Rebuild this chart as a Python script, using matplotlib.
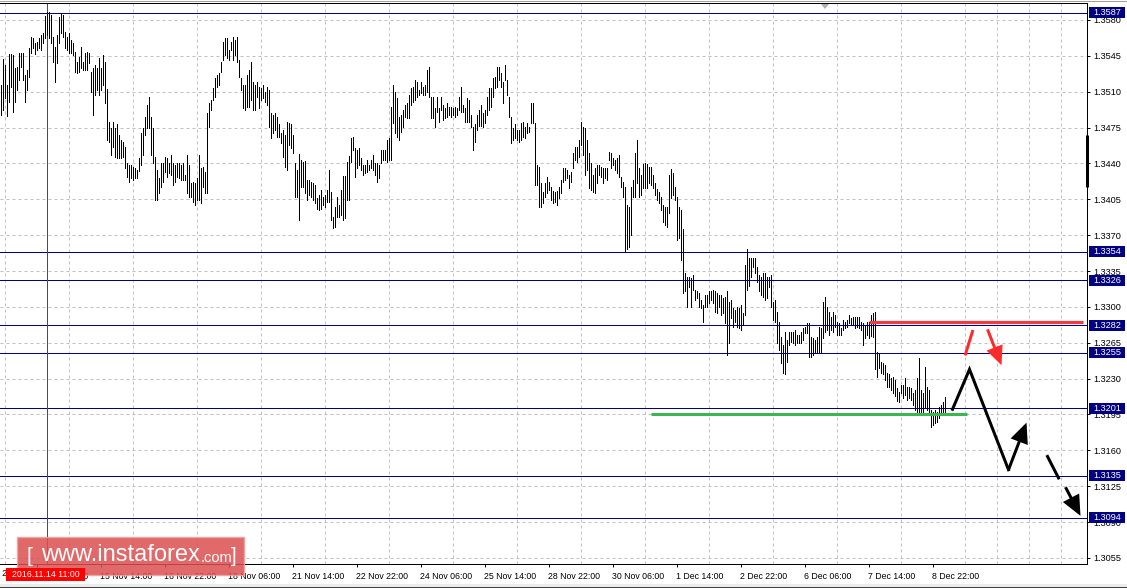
import matplotlib
matplotlib.use("Agg")
import matplotlib.pyplot as plt
import matplotlib.transforms as mtrans
from matplotlib.patches import Rectangle, Polygon, FancyArrowPatch
from matplotlib.lines import Line2D

plt.rcParams['font.family'] = ['Liberation Sans', 'DejaVu Sans']

# ---------------- data (H1 bars) ----------------
highs = [
1.3517,1.3542,1.3536,1.3517,1.3547,1.3547,1.3546,1.3533,1.3534,1.3548,
1.3548,1.3548,1.3526,1.3531,1.3553,1.3563,1.3562,1.3558,1.3559,1.3562,
1.3565,1.3567,1.3584,1.3588,1.3588,1.3585,1.3563,1.3554,1.3565,1.3583,
1.3587,1.3585,1.3568,1.3563,1.3567,1.3560,1.3558,1.3549,1.3539,1.3544,
1.3554,1.3539,1.3548,1.3549,1.3548,1.3529,1.3533,1.3536,1.3533,1.3543,
1.3533,1.3546,1.3539,1.3513,1.3480,1.3475,1.3480,1.3475,1.3478,1.3468,
1.3463,1.3461,1.3456,1.3440,1.3438,1.3438,1.3437,1.3436,1.3434,1.3445,
1.3470,1.3475,1.3485,1.3497,1.3505,1.3485,1.3475,1.3446,1.3434,1.3426,
1.3440,1.3440,1.3446,1.3445,1.3440,1.3448,1.3440,1.3438,1.3440,1.3440,
1.3438,1.3440,1.3429,1.3448,1.3438,1.3421,1.3422,1.3421,1.3426,1.3448,
1.3436,1.3437,1.3432,1.3489,1.3499,1.3502,1.3514,1.3523,1.3526,1.3528,
1.3539,1.3559,1.3562,1.3562,1.3551,1.3559,1.3563,1.3560,1.3563,1.3541,
1.3523,1.3517,1.3517,1.3526,1.3531,1.3539,1.3519,1.3517,1.3519,1.3515,
1.3514,1.3517,1.3510,1.3515,1.3512,1.3489,1.3487,1.3489,1.3485,1.3478,
1.3470,1.3473,1.3468,1.3480,1.3479,1.3478,1.3468,1.3440,1.3434,1.3449,
1.3443,1.3441,1.3442,1.3424,1.3424,1.3422,1.3421,1.3419,1.3406,1.3409,
1.3414,1.3407,1.3409,1.3414,1.3434,1.3412,1.3388,1.3397,1.3407,1.3399,
1.3414,1.3428,1.3428,1.3441,1.3447,1.3465,1.3466,1.3455,1.3453,1.3455,
1.3445,1.3438,1.3438,1.3443,1.3438,1.3443,1.3448,1.3440,1.3440,1.3438,
1.3453,1.3453,1.3453,1.3463,1.3465,1.3495,1.3517,1.3510,1.3504,1.3485,
1.3487,1.3492,1.3497,1.3499,1.3507,1.3514,1.3515,1.3521,1.3519,1.3512,
1.3519,1.3515,1.3517,1.3531,1.3534,1.3505,1.3505,1.3494,1.3505,1.3494,
1.3505,1.3497,1.3494,1.3499,1.3495,1.3495,1.3494,1.3495,1.3494,1.3505,
1.3515,1.3497,1.3494,1.3504,1.3502,1.3487,1.3476,1.3478,1.3487,1.3492,
1.3497,1.3489,1.3492,1.3505,1.3514,1.3514,1.3523,1.3524,1.3534,1.3534,
1.3528,1.3519,1.3536,1.3521,1.3505,1.3485,1.3475,1.3478,1.3473,1.3473,
1.3479,1.3480,1.3476,1.3479,1.3476,1.3499,1.3499,1.3479,1.3438,1.3437,
1.3421,1.3412,1.3421,1.3427,1.3422,1.3417,1.3413,1.3412,1.3413,1.3417,
1.3424,1.3436,1.3436,1.3434,1.3429,1.3432,1.3450,1.3456,1.3456,1.3463,
1.3480,1.3476,1.3475,1.3463,1.3450,1.3440,1.3429,1.3436,1.3438,1.3438,
1.3437,1.3436,1.3436,1.3436,1.3451,1.3450,1.3445,1.3443,1.3445,1.3448,
1.3427,1.3422,1.3417,1.3399,1.3397,1.3417,1.3424,1.3450,1.3463,1.3436,
1.3429,1.3439,1.3440,1.3439,1.3437,1.3437,1.3429,1.3421,1.3415,1.3412,
1.3407,1.3399,1.3397,1.3397,1.3429,1.3435,1.3431,1.3417,1.3407,1.3397,
1.3395,1.3376,1.3333,1.3329,1.3329,1.3328,1.3331,1.3316,1.3315,1.3314,
1.3307,1.3302,1.3312,1.3312,1.3315,1.3315,1.3316,1.3315,1.3314,1.3312,
1.3312,1.3309,1.3310,1.3315,1.3305,1.3307,1.3299,1.3297,1.3300,1.3299,
1.3302,1.3294,1.3341,1.3356,1.3348,1.3348,1.3348,1.3348,1.3339,1.3331,
1.3329,1.3333,1.3333,1.3329,1.3329,1.3331,1.3305,1.3307,1.3295,1.3285,
1.3271,1.3263,1.3275,1.3268,1.3275,1.3275,1.3275,1.3277,1.3273,1.3273,
1.3275,1.3279,1.3280,1.3284,1.3284,1.3271,1.3270,1.3268,1.3271,1.3280,
1.3279,1.3305,1.3310,1.3300,1.3295,1.3290,1.3295,1.3292,1.3285,1.3284,
1.3279,1.3287,1.3285,1.3287,1.3292,1.3289,1.3290,1.3290,1.3290,1.3290,
1.3285,1.3284,1.3282,1.3285,1.3285,1.3292,1.3294,1.3295,1.3256,1.3255,
1.3246,1.3245,1.3243,1.3235,1.3234,1.3231,1.3232,1.3229,1.3221,1.3217,
1.3224,1.3224,1.3231,1.3222,1.3222,1.3221,1.3216,1.3219,1.3231,1.3250,
1.3219,1.3216,1.3241,1.3222,1.3219,1.3199,1.3197,1.3199,1.3197,1.3202,
1.3204,1.3207,1.3212]

lows = [
1.3487,1.3492,1.3504,1.3486,1.3500,1.3515,1.3490,1.3500,1.3512,1.3521,
1.3534,1.3521,1.3500,1.3512,1.3524,1.3548,1.3553,1.3547,1.3551,1.3553,
1.3551,1.3558,1.3562,1.3565,1.3562,1.3558,1.3539,1.3519,1.3538,1.3558,
1.3567,1.3563,1.3553,1.3551,1.3548,1.3548,1.3546,1.3529,1.3528,1.3529,
1.3533,1.3531,1.3531,1.3531,1.3538,1.3510,1.3487,1.3507,1.3512,1.3507,
1.3512,1.3517,1.3499,1.3463,1.3461,1.3448,1.3456,1.3446,1.3445,1.3445,
1.3445,1.3446,1.3436,1.3427,1.3422,1.3426,1.3424,1.3426,1.3426,1.3433,
1.3438,1.3448,1.3468,1.3475,1.3475,1.3448,1.3440,1.3404,1.3404,1.3411,
1.3417,1.3422,1.3432,1.3427,1.3431,1.3429,1.3419,1.3422,1.3427,1.3426,
1.3424,1.3424,1.3424,1.3411,1.3407,1.3407,1.3402,1.3399,1.3404,1.3404,
1.3401,1.3417,1.3411,1.3411,1.3476,1.3492,1.3502,1.3505,1.3515,1.3517,
1.3529,1.3541,1.3546,1.3543,1.3541,1.3551,1.3541,1.3546,1.3539,1.3524,
1.3512,1.3494,1.3492,1.3495,1.3495,1.3502,1.3492,1.3492,1.3505,1.3494,
1.3502,1.3504,1.3500,1.3497,1.3476,1.3465,1.3470,1.3473,1.3466,1.3466,
1.3460,1.3446,1.3437,1.3434,1.3458,1.3455,1.3450,1.3407,1.3407,1.3385,
1.3417,1.3417,1.3411,1.3404,1.3409,1.3407,1.3404,1.3401,1.3396,1.3395,
1.3396,1.3399,1.3397,1.3402,1.3402,1.3385,1.3377,1.3378,1.3388,1.3388,
1.3390,1.3385,1.3387,1.3404,1.3404,1.3441,1.3453,1.3427,1.3436,1.3438,
1.3434,1.3429,1.3431,1.3432,1.3434,1.3436,1.3434,1.3429,1.3422,1.3426,
1.3440,1.3443,1.3443,1.3441,1.3443,1.3443,1.3479,1.3470,1.3466,1.3463,
1.3471,1.3476,1.3485,1.3484,1.3484,1.3497,1.3500,1.3502,1.3505,1.3507,
1.3509,1.3507,1.3507,1.3510,1.3505,1.3484,1.3484,1.3476,1.3490,1.3480,
1.3492,1.3482,1.3484,1.3485,1.3487,1.3485,1.3487,1.3485,1.3487,1.3492,
1.3490,1.3490,1.3480,1.3480,1.3480,1.3476,1.3453,1.3461,1.3473,1.3477,
1.3477,1.3476,1.3479,1.3487,1.3492,1.3495,1.3505,1.3514,1.3515,1.3521,
1.3515,1.3499,1.3521,1.3507,1.3485,1.3460,1.3463,1.3465,1.3463,1.3461,
1.3463,1.3466,1.3465,1.3470,1.3471,1.3479,1.3479,1.3419,1.3419,1.3397,
1.3397,1.3401,1.3407,1.3411,1.3414,1.3404,1.3401,1.3402,1.3399,1.3406,
1.3411,1.3422,1.3424,1.3426,1.3416,1.3422,1.3436,1.3443,1.3441,1.3446,
1.3458,1.3448,1.3429,1.3434,1.3416,1.3414,1.3412,1.3411,1.3421,1.3429,
1.3427,1.3421,1.3426,1.3424,1.3443,1.3436,1.3438,1.3434,1.3431,1.3427,
1.3417,1.3407,1.3354,1.3356,1.3358,1.3370,1.3407,1.3407,1.3421,1.3407,
1.3409,1.3416,1.3416,1.3416,1.3421,1.3419,1.3416,1.3409,1.3404,1.3401,
1.3395,1.3383,1.3380,1.3378,1.3392,1.3406,1.3409,1.3404,1.3365,1.3367,
1.3346,1.3314,1.3315,1.3300,1.3319,1.3300,1.3316,1.3307,1.3309,1.3300,
1.3299,1.3285,1.3300,1.3300,1.3304,1.3307,1.3304,1.3295,1.3294,1.3300,
1.3292,1.3294,1.3284,1.3253,1.3265,1.3289,1.3280,1.3285,1.3280,1.3279,
1.3277,1.3282,1.3292,1.3316,1.3320,1.3329,1.3339,1.3333,1.3324,1.3315,
1.3312,1.3310,1.3307,1.3309,1.3319,1.3300,1.3287,1.3285,1.3265,1.3258,
1.3245,1.3235,1.3234,1.3246,1.3263,1.3266,1.3265,1.3263,1.3265,1.3265,
1.3265,1.3268,1.3274,1.3274,1.3251,1.3251,1.3253,1.3255,1.3256,1.3256,
1.3255,1.3270,1.3275,1.3277,1.3273,1.3277,1.3275,1.3280,1.3273,1.3273,
1.3273,1.3277,1.3279,1.3280,1.3284,1.3282,1.3282,1.3279,1.3280,1.3279,
1.3277,1.3263,1.3270,1.3273,1.3270,1.3272,1.3271,1.3239,1.3232,1.3240,
1.3235,1.3234,1.3229,1.3222,1.3222,1.3219,1.3216,1.3213,1.3208,1.3207,
1.3216,1.3211,1.3214,1.3209,1.3211,1.3209,1.3204,1.3199,1.3197,1.3197,
1.3194,1.3196,1.3202,1.3199,1.3197,1.3183,1.3185,1.3187,1.3188,1.3192,
1.3194,1.3196,1.3197]

time_labels = ["14 Nov 06:00", "15 Nov 14:00", "16 Nov 22:00", "18 Nov 06:00",
               "21 Nov 14:00", "22 Nov 22:00", "24 Nov 06:00", "25 Nov 14:00",
               "28 Nov 22:00", "30 Nov 06:00", "1 Dec 14:00", "2 Dec 22:00",
               "6 Dec 06:00", "7 Dec 14:00", "8 Dec 22:00"]
prev_label = "10 Nov 22:00"
price_ticks = [1.3055, 1.3090, 1.3125, 1.3160, 1.3195, 1.3230, 1.3265, 1.3300,
               1.3335, 1.3370, 1.3405, 1.3440, 1.3475, 1.3510, 1.3545, 1.3580]
level_prices = [1.3587, 1.3354, 1.3326, 1.3282, 1.3255, 1.3201, 1.3135, 1.3094]
marker_bar = 23
marker_label = "2016.11.14 11:00"
resistance_price = 1.32853
resistance_span = [434, 541]
support_price = 1.31955
support_span = [325, 483]
# forecast paths (bar index, price)
black_path_x = [476, 484.5, 504, 513]
black_path_y = [1.3200, 1.3239, 1.3141, 1.3187]
black_dash_x = [523.5, 529, 532.5, 540]
black_dash_y = [1.3154, 1.3133, 1.3124, 1.3096]
red_path_x = [482.5, 486, 493.5, 500.5]
red_path_y = [1.3254, 1.3276, 1.3278, 1.3243]

# ---------------- figure ----------------
W, H = 1127, 588
fig = plt.figure(figsize=(W / 100, H / 100), dpi=100)
fig.patch.set_facecolor('white')
ax = fig.add_axes([0, (H - 564) / H, 1087 / W, 561 / H])
ax.set_facecolor('white')

n = min(len(highs), len(lows))
xs = list(range(n))
ax.set_xlim(-0.25, 543.25)
ax.set_ylim(1.304901, 1.359659)

PX = 0.72  # one pixel in points
grid_kw = dict(color='#c0c0c0', linestyle=(0, (3, 3)), linewidth=PX)

ax.set_xticks([18 + 32 * k for k in range(len(time_labels))])
ax.set_xticks([2 + 16 * k for k in range(34)], minor=True)
ax.set_xticklabels(time_labels, ha='left', fontsize=6.3)
ax.xaxis.grid(True, which='minor', **grid_kw)
ax.xaxis.grid(False, which='major')
ax.set_yticks(price_ticks)
ax.set_yticklabels([f"{p:.4f}" for p in price_ticks], fontsize=6.6)
ax.yaxis.grid(True, **grid_kw)
ax.set_axisbelow(True)
ax.yaxis.tick_right()
ax.tick_params(axis='y', direction='out', length=3 * PX, width=PX, pad=3 * PX, colors='black')
ax.tick_params(axis='x', which='major', direction='out', length=3 * PX, width=PX, pad=5 * PX)
ax.tick_params(axis='x', which='minor', length=0)

ax.spines['left'].set_visible(False)
for s in ['top', 'right', 'bottom']:
    ax.spines[s].set_linewidth(PX)
    ax.spines[s].set_color('black')

# levels
for p in level_prices:
    ax.axhline(p, color='#000080', lw=PX, zorder=2)

# marker vertical line
ax.axvline(marker_bar, color='#ff0000', lw=PX, antialiased=False, zorder=2)

# bars
ax.vlines(xs, lows[:n], highs[:n], colors='black', linewidth=0.72, antialiased=False, zorder=3)

# support / resistance
ax.plot(resistance_span, [resistance_price] * 2, color='#f23b3b', lw=3.2 * PX, solid_capstyle='butt', zorder=4)
ax.plot(support_span, [support_price] * 2, color='#3cb64e', lw=3 * PX, solid_capstyle='butt', zorder=4)

def arrow(x0, y0, x1, y1, color, hl=1.0, hw=0.45, ms=11):
    a = FancyArrowPatch((x0, y0), (x1, y1), arrowstyle=f'-|>,head_length={hl},head_width={hw}',
                        mutation_scale=ms, color=color, lw=3 * PX, shrinkA=0, shrinkB=0,
                        joinstyle='miter', capstyle='butt', zorder=5)
    ax.add_patch(a)

ax.plot(black_path_x[:3], black_path_y[:3], color='black', lw=3 * PX, solid_joinstyle='miter', zorder=5)
arrow(black_path_x[2], black_path_y[2], black_path_x[3], black_path_y[3], 'black')
ax.plot(black_dash_x[:2], black_dash_y[:2], color='black', lw=3 * PX, zorder=5)
arrow(black_dash_x[2], black_dash_y[2], black_dash_x[3], black_dash_y[3], 'black')
ax.plot(red_path_x[:2], red_path_y[:2], color='#ff2a2a', lw=3 * PX, zorder=5)
arrow(red_path_x[2], red_path_y[2], red_path_x[3], red_path_y[3], '#ff2a2a', hl=1.0, hw=0.45, ms=10)

# right-side price boxes
yr = ax.get_ylim()
hbox = 11 * (yr[1] - yr[0]) / 561
btr = mtrans.blended_transform_factory(ax.transAxes, ax.transData)
for p in level_prices:
    ax.add_patch(Rectangle((1089 / 1087, p - hbox / 2), 36 / 1087, hbox, transform=btr,
                           facecolor='#000080', edgecolor='none', clip_on=False, zorder=10))
    ax.text(1107 / 1087, p, f"{p:.4f}", transform=btr, ha='center', va='center',
            color='white', fontsize=6.6, clip_on=False, zorder=11)

ax.plot([543.25, 543.25], [1.3468, 1.3417], color='black', lw=3 * PX, clip_on=False,
        solid_capstyle='butt', zorder=9)

# previous (clipped) time label
xtr = mtrans.blended_transform_factory(ax.transData, ax.transAxes)
ax.text(-14, 0, prev_label, ha='left', va='top', fontsize=6.3, clip_on=False,
        transform=xtr + mtrans.ScaledTranslation(0, -5 * PX / 72, fig.dpi_scale_trans))

def fx(px):
    return px / W
def fy(py):
    return 1 - py / H

# watermark
fig.patches.append(Rectangle((fx(17), fy(575)), 227 / W, 38 / H, transform=fig.transFigure,
                             facecolor='#dc4f4f', edgecolor='#f2a0a0', linewidth=1.0,
                             alpha=0.85, zorder=15))
fig.text(fx(27), fy(556), "[", color='white', fontsize=15, va='center', ha='left', zorder=16)
fig.text(fx(41), fy(555), "www.instaforex", color='white', fontsize=17, va='center', ha='left', zorder=16)
fig.text(fx(201), fy(557.5), ".com", color='white', fontsize=10.5, va='center', ha='left', zorder=16)
fig.text(fx(231), fy(556), "]", color='white', fontsize=15, va='center', ha='left', zorder=16)

# red time marker label
fig.patches.append(Rectangle((fx(6), fy(581)), 79 / W, 13 / H, transform=fig.transFigure,
                             facecolor='#ff0000', edgecolor='none', zorder=20))
fig.text(fx(46), fy(574.5), marker_label, ha='center', va='center', color='white',
         fontsize=6.3, zorder=21)

# window chrome
fig.add_artist(Line2D([0, 1], [fy(0.5), fy(0.5)], transform=fig.transFigure, color='#a0a0a0', lw=PX))
fig.add_artist(Rectangle((0, 0), 1, 4 / H, transform=fig.transFigure, facecolor='#ececec', edgecolor='none'))
fig.add_artist(Line2D([0, 1], [fy(586.5), fy(586.5)], transform=fig.transFigure, color='#404040', lw=PX))
fig.add_artist(Polygon([[fx(821), fy(4)], [fx(829), fy(4)], [fx(825), fy(9)]], closed=True,
                       transform=fig.transFigure, facecolor='#b0b0b0', edgecolor='none'))

fig.savefig('out.png', dpi=100)
